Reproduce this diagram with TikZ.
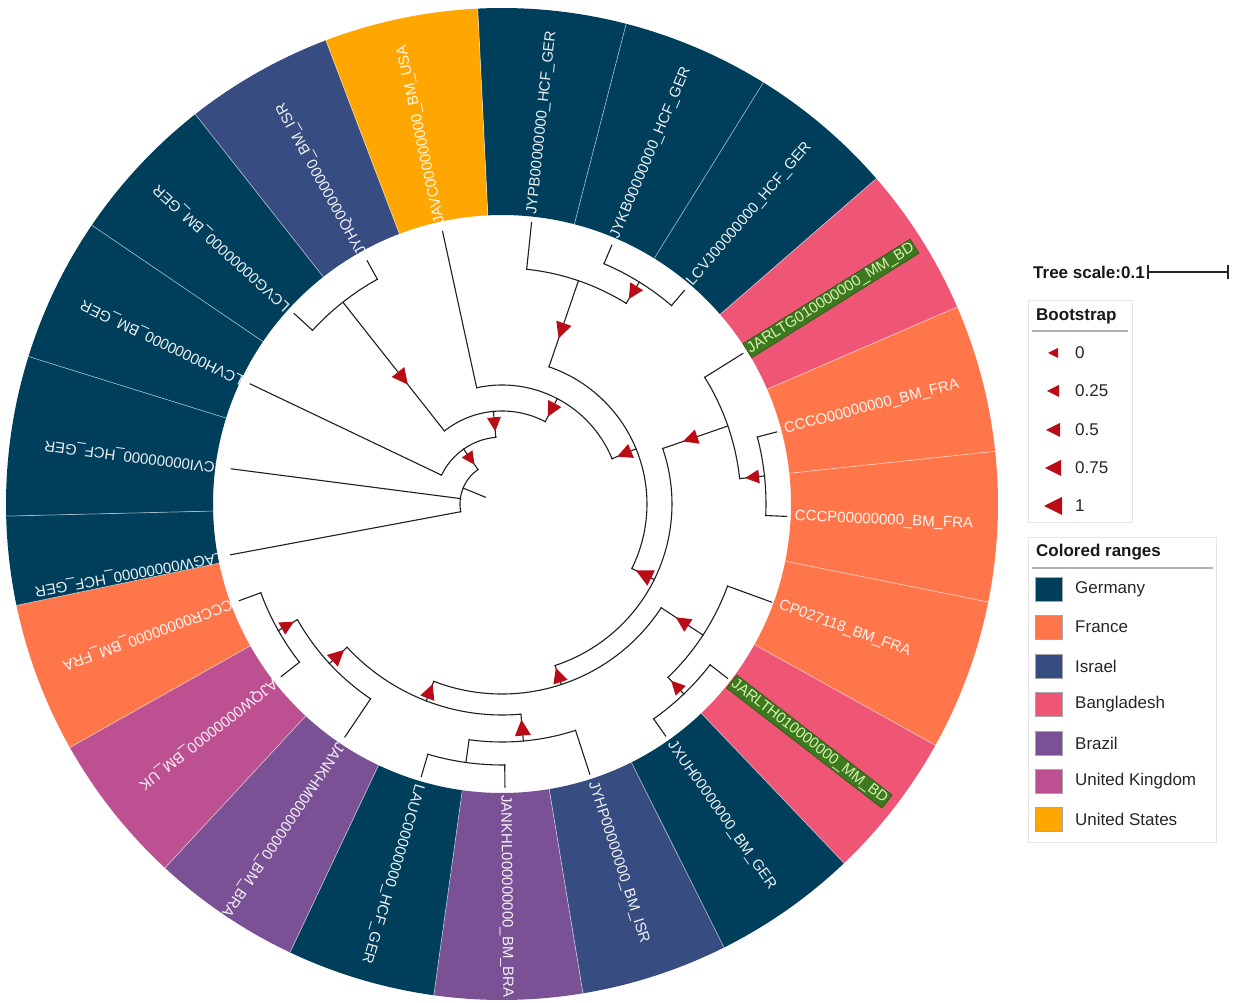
\documentclass[tikz,border=0pt]{standalone}
\usepackage{fontspec}
\setmainfont{Liberation Sans}
\usetikzlibrary{calc}
\definecolor{ger}{HTML}{003F5C}
\definecolor{isr}{HTML}{374C80}
\definecolor{bra}{HTML}{7A5195}
\definecolor{uk}{HTML}{BC5090}
\definecolor{bd}{HTML}{EF5675}
\definecolor{fra}{HTML}{FF764A}
\definecolor{usa}{HTML}{FFA600}
\definecolor{bootred}{HTML}{B80C16}
\definecolor{hlgreen}{HTML}{3D7A1F}
\definecolor{hltext}{HTML}{D8F2B0}
\newcommand{\radial}[3]{\draw[tree] (#1:#2pt) -- (#1:#3pt);}
\newcommand{\clade}[3]{\draw[tree] (#1:#3pt) arc[start angle=#1, end angle=#2, radius=#3pt];}
\newcommand{\boot}[3]{\fill[bootred, shift={(#1:#2pt)}, rotate=#1] (-#3*0.5pt,0pt) -- (#3*0.5pt,#3*0.5pt) -- (#3*0.5pt,-#3*0.5pt) -- cycle;}
\begin{document}
\begin{tikzpicture}[x=1pt,y=1pt,
  tree/.style={draw=black!88, line width=1.1pt, line cap=rect},
  sep/.style={draw=white, opacity=0.55, line width=0.7pt},
  leaf/.style={anchor=west, inner sep=0pt, text=white, text opacity=0.92, font=\fontsize{15}{15}\selectfont},
  hl/.style={anchor=west, inner sep=1.6pt, fill=hlgreen, draw=hlgreen!70!black, line width=0.6pt, text=hltext, font=\fontsize{15}{15}\selectfont},
  legtext/.style={anchor=west, inner sep=0pt, font=\fontsize{17}{17}\selectfont, text=black!85},
  legtitle/.style={anchor=base west, inner sep=0pt, font=\bfseries\fontsize{17}{17}\selectfont, text=black!90}]
\fill[white] (-502,-499) rectangle (735,504);
\useasboundingbox (-502,-499) rectangle (735,504);

% ---- coloured ranges ----
\foreach \a/\b/\c in {92.8/75.5/ger, 75.5/58.2/ger, 58.2/41.0/ger, 41.0/23.4/bd, 23.4/6.1/fra,
  6.1/-11.4/fra, -11.4/-29.1/fra, -29.1/-46.4/bd, -46.4/-63.4/ger, -63.4/-80.6/isr,
  -80.6/-97.9/bra, -97.9/-115.3/ger, -115.3/-132.8/bra, -132.8/-150.6/uk, -150.6/-168.2/fra,
  -168.2/-178.6/ger, -178.6/-197.3/ger, -197.3/-214.2/ger, -214.2/-231.8/ger, -231.8/-249.2/isr,
  -249.2/-267.2/usa}
  {\fill[\c] (\a:289pt) arc[start angle=\a, end angle=\b, radius=289pt] -- (\b:496pt)
     arc[start angle=\b, end angle=\a, radius=496pt] -- cycle;}
\foreach \a in {92.8,75.5,58.2,41.0,23.4,6.1,-11.4,-29.1,-46.4,-63.4,-80.6,-97.9,-115.3,-132.8,-150.6,-168.2,-178.6,-197.3,-214.2,-231.8,-249.2}
  {\draw[sep] (\a:289pt) -- (\a:496pt);}

% ---- leaf labels ----
\node[leaf, rotate=84] (l0) at (84:291pt) {JYPB00000000\_HCF\_GER};
\node[leaf, rotate=67] (l1) at (67:289pt) {JYKB00000000\_HCF\_GER};
\node[leaf, rotate=49.5] (l2) at (49.5:289pt) {LCVJ00000000\_HCF\_GER};
\node[hl, rotate=32] (l3) at (32:289pt) {JARLTG010000000\_MM\_BD};
\node[leaf, rotate=14.7] (l4) at (14.7:292pt) {CCCO00000000\_BM\_FRA};
\node[leaf, rotate=-2.5] (l5) at (-2.5:293pt) {CCCP00000000\_BM\_FRA};
\node[leaf, rotate=-20] (l6) at (-20:295pt) {CP027118\_BM\_FRA};
\node[hl, rotate=-37.7] (l7) at (-37.7:290pt) {JARLTH010000000\_MM\_BD};
\node[leaf, rotate=-54.8] (l8) at (-54.8:292pt) {JXUH00000000\_BM\_GER};
\node[leaf, rotate=-72] (l9) at (-72:292pt) {JYHP00000000\_BM\_ISR};
\node[leaf, rotate=-89.4] (l10) at (-89.4:291pt) {JANKHL000000000\_BM\_BRA};
\node[leaf, rotate=-106.5] (l11) at (-106.5:292pt) {LAUC00000000\_HCF\_GER};
\node[leaf, rotate=-124] (l12) at (-124:289pt) {JANKHM000000000\_BM\_BRA};
\node[leaf, rotate=-142] (l13) at (-142:288pt) {AJQW00000000\_BM\_UK};
\node[leaf, rotate=-159.8] (l14) at (-159.8:288pt) {CCCR00000000\_BM\_FRA};
\node[leaf, rotate=190.6] (l15) at (190.6:284pt) {LAGW00000000\_HCF\_GER};
\node[leaf, rotate=172.6] (l16) at (172.6:281pt) {LCVI00000000\_HCF\_GER};
\node[leaf, rotate=154.5] (l17) at (154.5:287pt) {LCVH00000000\_BM\_GER};
\node[leaf, rotate=137.5] (l18) at (137.5:290pt) {LCVG00000000\_BM\_GER};
\node[leaf, rotate=119] (l19) at (119:286pt) {JYHQ00000000\_BM\_ISR};
\node[leaf, rotate=102.3] (l20) at (102.3:287pt) {JAVC000000000\_BM\_USA};

% ---- tree ----
\coordinate (root) at (157.75:18pt);
\coordinate (rootarc) at (157.75:42pt);
\draw[tree] (root) -- (rootarc);
\clade{124.9}{190.6}{42}
\radial{172.6}{42}{273}
\radial{190.6}{42}{276}
\radial{124.9}{42}{67}
\clade{154.5}{95.3}{67}
\radial{154.5}{67}{279}
\radial{95.3}{67}{93}
\clade{128.25}{62.3}{93}
\radial{128.25}{93}{257}
\clade{137.5}{119}{257}
\radial{137.5}{257}{282}
\radial{119}{257}{278}
\radial{62.3}{93}{119}
\clade{102.3}{22.35}{119}
\radial{102.3}{119}{279}
\radial{22.35}{119}{145}
\clade{71.1}{-26.4}{145}
\radial{71.1}{145}{236}
\clade{84}{58.25}{236}
\radial{84}{236}{283}
\radial{58.25}{236}{261}
\clade{67}{49.5}{261}
\radial{67}{261}{281}
\radial{49.5}{261}{281}
\radial{-26.4}{145}{170}
\clade{19.05}{-71.8}{170}
\radial{19.05}{170}{239}
\clade{32}{6.1}{239}
\radial{32}{239}{284}
\radial{6.1}{239}{264}
\clade{14.7}{-2.5}{264}
\radial{14.7}{264}{284}
\radial{-2.5}{264}{285}
\radial{-71.8}{170}{190}
\clade{-33.1}{-111.05}{190}
\radial{-33.1}{190}{240}
\clade{-20}{-46.25}{240}
\radial{-20}{240}{287}
\radial{-46.25}{240}{263}
\clade{-37.7}{-54.8}{263}
\radial{-37.7}{263}{285}
\radial{-54.8}{263}{284}
\radial{-111.05}{190}{211}
\clade{-84.85}{-137.25}{211}
\radial{-84.85}{211}{238}
\clade{-72}{-97.95}{238}
\radial{-72}{238}{284}
\radial{-97.95}{238}{261}
\clade{-89.4}{-106.5}{261}
\radial{-89.4}{261}{283}
\radial{-106.5}{261}{284}
\radial{-137.25}{211}{235}
\clade{-124}{-150.5}{235}
\radial{-124}{235}{281}
\radial{-150.5}{235}{257}
\clade{-142}{-159.8}{257}
\radial{-142}{257}{280}
\radial{-159.8}{257}{280}

% ---- bootstrap symbols ----
\boot{124.9}{54.5}{13}
\boot{95.3}{80}{14}
\boot{128.25}{160}{16}
\boot{62.3}{106}{15}
\boot{22.35}{132}{15}
\boot{71.1}{183}{16}
\boot{58.25}{248.5}{15}
\boot{-26.4}{158}{17}
\boot{19.05}{199}{15}
\boot{6.1}{251.5}{14}
\boot{-71.8}{180}{15}
\boot{-33.1}{215}{15}
\boot{-46.25}{251.5}{14}
\boot{-111.05}{200.5}{15}
\boot{-84.85}{224.5}{16}
\boot{-137.25}{223}{16}
\boot{-150.5}{246}{14}

% ---- legend: tree scale ----
\node[anchor=west, inner sep=0pt, font=\bfseries\fontsize{17}{17}\selectfont, text=black!90] (ts) at (531,232) {Tree scale:0.1};
\coordinate (sbend) at (726,232);
\draw[line width=1.6pt, black!85] ([xshift=3pt]ts.east) -- (ts.east -| sbend);
\draw[line width=1.6pt, black!85] ([xshift=3pt,yshift=-7pt]ts.east) -- ([xshift=3pt,yshift=7pt]ts.east);
\draw[line width=1.6pt, black!85] ([yshift=-7pt]ts.east -| sbend) -- ([yshift=7pt]ts.east -| sbend);

% ---- legend: bootstrap ----
\draw[black!10] (526,204) rectangle (630,-18);
\node[legtitle] (bt) at (534,183) {Bootstrap};
\draw[black!30, line width=1.5pt] (530,173) -- (626,173);
\foreach \yy/\s/\t in {151/10/0, 113/12/0.25, 74/14/0.5, 36/16/0.75, -2/18/1}
  {\fill[bootred, shift={(551,\yy)}] (-\s*0.5,0) -- (\s*0.5,\s*0.5) -- (\s*0.5,-\s*0.5) -- cycle;
   \node[legtext] at (573,\yy) {\t};}

% ---- legend: coloured ranges ----
\draw[black!10] (526,-33) rectangle (714,-338);
\node[legtitle] (cr) at (534,-53) {Colored ranges};
\draw[black!30, line width=1.5pt] (530,-64) -- (711,-64);
\foreach \yy/\c/\t in {-85/ger/Germany, -123/fra/France, -162/isr/Israel, -200/bd/Bangladesh,
  -239/bra/Brazil, -277/uk/United Kingdom, -315/usa/United States}
  {\filldraw[fill=\c, draw=black!35, line width=0.8pt] (533,\yy+12) rectangle (560,\yy-12);
   \node[legtext] at (573,\yy) {\t};}
\end{tikzpicture}
\end{document}
